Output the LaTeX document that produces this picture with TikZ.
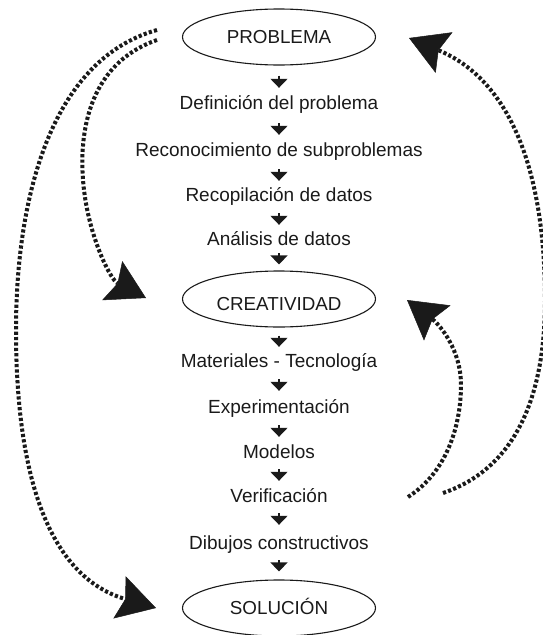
\documentclass[tikz,border=0pt]{standalone}
\usepackage{fontspec}
\setmainfont{Liberation Sans}
\usetikzlibrary{shapes.geometric,arrows.meta}
\definecolor{ink}{HTML}{1A1A1A}
\begin{document}
\begin{tikzpicture}[x=1pt,y=-1pt,
  lbl/.style={font=\fontsize{19}{20}\selectfont, text=ink, inner sep=0pt, text height=13pt, text depth=0pt},
  oval/.style={ellipse, draw=ink, line width=1.1pt, minimum width=193pt, minimum height=56pt, inner sep=0pt,
    font=\fontsize{18.8}{20}\selectfont, text=ink, text height=13pt, text depth=0pt},
  smallarr/.style={draw=ink, line width=1.4pt, -{Triangle[length=9pt,width=17pt]}},
  dotline/.style={draw=ink, line width=4pt, dash pattern=on 3.2pt off 2.2pt,
    -{Stealth[length=38pt,width=44pt,inset=6pt,line width=0.5pt]}}]
\useasboundingbox (0,0) rectangle (542,635);

\node[oval] (prob) at (279,37) {PROBLEMA};
\node[lbl] (def) at (279,102.5) {Definición del problema};
\node[lbl] (rec) at (279,150) {Reconocimiento de subproblemas};
\node[lbl] (recop) at (279,195) {Recopilación de datos};
\node[lbl] (ana) at (279,238.5) {Análisis de datos};
\node[oval, text height=23pt] (crea) at (279,299) {CREATIVIDAD};
\node[lbl] (mat) at (279,360.5) {Materiales - Tecnología};
\node[lbl] (exp) at (279,406.5) {Experimentación};
\node[lbl] (mod) at (279,451.5) {Modelos};
\node[lbl] (ver) at (279,495.5) {Verificación};
\node[lbl] (dib) at (279,542.5) {Dibujos constructivos};
\node[oval] (sol) at (279,608) {SOLUCIÓN};

\draw[smallarr, shorten <=10pt, shorten >=8pt] (prob.south) -- (def.north);
\draw[smallarr, shorten <=14pt, shorten >=8.5pt] (def.south) -- (rec.north);
\draw[smallarr, shorten <=12.5pt, shorten >=7.5pt] (rec.south) -- (recop.north);
\draw[smallarr, shorten <=11.5pt, shorten >=7pt] (recop.south) -- (ana.north);
\draw[smallarr, shorten <=8pt, shorten >=6pt] (ana.south) -- (crea.north);
\draw[smallarr, shorten <=8pt, shorten >=7pt] (crea.south) -- (mat.north);
\draw[smallarr, shorten <=12pt, shorten >=9pt] (mat.south) -- (exp.north);
\draw[smallarr, shorten <=12pt, shorten >=8pt] (exp.south) -- (mod.north);
\draw[smallarr, shorten <=11pt, shorten >=8pt] (mod.south) -- (ver.north);
\draw[smallarr, shorten <=11pt, shorten >=11pt] (ver.south) -- (dib.north);
\draw[smallarr, shorten <=11pt, shorten >=8pt] (dib.south) -- (sol.north);

\coordinate (pl1) at (157,30);
\coordinate (pl2) at (157,40);
\coordinate (solin) at (156,608);
\coordinate (creal) at (146,298);
\coordinate (vr1) at (408,497);
\coordinate (vr2) at (443,493);
\coordinate (crear) at (407,300);
\coordinate (probr) at (409,38);

\draw[dotline] (pl1) .. controls (50,60) and (16,200) .. (16,330)
  .. controls (16,500) and (60,580) .. (solin);
\draw[dotline] (pl2) .. controls (85,65) and (78,140) .. (84,190)
  .. controls (90,240) and (111,280) .. (creal);
\draw[dotline] (vr2) .. controls (525,465) and (545,380) .. (545,300)
  .. controls (545,170) and (510,80) .. (probr);
\draw[dotline] (vr1) .. controls (450,470) and (461,420) .. (461,385)
  .. controls (461,350) and (440,325) .. (crear);
\end{tikzpicture}
\end{document}
